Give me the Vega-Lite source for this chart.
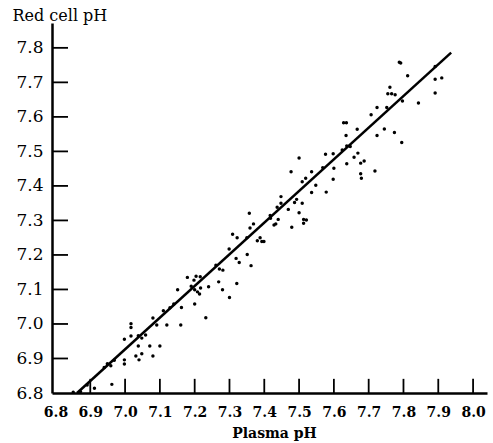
{
  "$schema": "https://vega.github.io/schema/vega-lite/v6.json",
  "autosize": {"type": "none"},
  "padding": {"left": 52, "top": 23, "right": 6, "bottom": 50},
  "width": 435,
  "height": 370,
  "background": "white",
  "config": {
    "view": {"stroke": null},
    "axisX": {"ticks": false, "tickSize": 0, "labelPadding": 12, "domainColor": "black", "domainWidth": 2.5, "grid": false},
    "axisY": {"ticks": false, "tickSize": 0, "labelPadding": 9, "domainColor": "black", "domainWidth": 2.5, "grid": false}
  },
  "datasets": {
    "pts": [
      {"plasma": 6.851, "red": 6.802}, {"plasma": 6.872, "red": 6.804}, {"plasma": 6.891, "red": 6.823},
      {"plasma": 6.912, "red": 6.814}, {"plasma": 6.962, "red": 6.825}, {"plasma": 6.940, "red": 6.874},
      {"plasma": 6.949, "red": 6.885}, {"plasma": 6.959, "red": 6.879}, {"plasma": 6.969, "red": 6.895},
      {"plasma": 6.998, "red": 6.896}, {"plasma": 6.998, "red": 6.884}, {"plasma": 6.998, "red": 6.956},
      {"plasma": 7.017, "red": 7.001}, {"plasma": 7.017, "red": 6.990}, {"plasma": 7.017, "red": 6.965},
      {"plasma": 7.031, "red": 6.907}, {"plasma": 7.040, "red": 6.896}, {"plasma": 7.048, "red": 6.914},
      {"plasma": 7.038, "red": 6.966}, {"plasma": 7.048, "red": 6.959}, {"plasma": 7.059, "red": 6.968},
      {"plasma": 7.038, "red": 6.936}, {"plasma": 7.071, "red": 6.936}, {"plasma": 7.080, "red": 6.907},
      {"plasma": 7.100, "red": 6.936}, {"plasma": 7.080, "red": 7.017}, {"plasma": 7.091, "red": 6.997},
      {"plasma": 7.110, "red": 7.038}, {"plasma": 7.120, "red": 6.997}, {"plasma": 7.129, "red": 7.047},
      {"plasma": 7.140, "red": 7.058}, {"plasma": 7.151, "red": 7.099}, {"plasma": 7.160, "red": 6.997},
      {"plasma": 7.162, "red": 7.048}, {"plasma": 7.179, "red": 7.135}, {"plasma": 7.190, "red": 7.109},
      {"plasma": 7.198, "red": 7.127}, {"plasma": 7.200, "red": 7.099}, {"plasma": 7.208, "red": 7.093},
      {"plasma": 7.214, "red": 7.087}, {"plasma": 7.200, "red": 7.058}, {"plasma": 7.216, "red": 7.137},
      {"plasma": 7.204, "red": 7.138}, {"plasma": 7.217, "red": 7.104}, {"plasma": 7.232, "red": 7.018},
      {"plasma": 7.240, "red": 7.108}, {"plasma": 7.261, "red": 7.170}, {"plasma": 7.271, "red": 7.159},
      {"plasma": 7.281, "red": 7.156}, {"plasma": 7.269, "red": 7.122}, {"plasma": 7.280, "red": 7.099},
      {"plasma": 7.300, "red": 7.077}, {"plasma": 7.299, "red": 7.217}, {"plasma": 7.309, "red": 7.260},
      {"plasma": 7.322, "red": 7.250}, {"plasma": 7.319, "red": 7.190}, {"plasma": 7.328, "red": 7.178},
      {"plasma": 7.321, "red": 7.117}, {"plasma": 7.350, "red": 7.250}, {"plasma": 7.351, "red": 7.201},
      {"plasma": 7.362, "red": 7.169}, {"plasma": 7.357, "red": 7.321}, {"plasma": 7.359, "red": 7.278},
      {"plasma": 7.369, "red": 7.290}, {"plasma": 7.388, "red": 7.250}, {"plasma": 7.380, "red": 7.241},
      {"plasma": 7.393, "red": 7.239}, {"plasma": 7.399, "red": 7.239}, {"plasma": 7.417, "red": 7.314},
      {"plasma": 7.428, "red": 7.287}, {"plasma": 7.418, "red": 7.306}, {"plasma": 7.440, "red": 7.303},
      {"plasma": 7.433, "red": 7.290}, {"plasma": 7.437, "red": 7.338}, {"plasma": 7.448, "red": 7.350},
      {"plasma": 7.448, "red": 7.369}, {"plasma": 7.469, "red": 7.332}, {"plasma": 7.479, "red": 7.280},
      {"plasma": 7.487, "red": 7.352}, {"plasma": 7.493, "red": 7.361}, {"plasma": 7.500, "red": 7.322},
      {"plasma": 7.509, "red": 7.350}, {"plasma": 7.513, "red": 7.303}, {"plasma": 7.521, "red": 7.301},
      {"plasma": 7.513, "red": 7.292}, {"plasma": 7.477, "red": 7.441}, {"plasma": 7.500, "red": 7.481},
      {"plasma": 7.509, "red": 7.412}, {"plasma": 7.519, "red": 7.422}, {"plasma": 7.536, "red": 7.441},
      {"plasma": 7.536, "red": 7.381}, {"plasma": 7.548, "red": 7.402}, {"plasma": 7.568, "red": 7.453},
      {"plasma": 7.578, "red": 7.382}, {"plasma": 7.576, "red": 7.492}, {"plasma": 7.598, "red": 7.493},
      {"plasma": 7.600, "red": 7.451}, {"plasma": 7.598, "red": 7.419}, {"plasma": 7.624, "red": 7.504},
      {"plasma": 7.637, "red": 7.516}, {"plasma": 7.647, "red": 7.514}, {"plasma": 7.637, "red": 7.464},
      {"plasma": 7.658, "red": 7.483}, {"plasma": 7.669, "red": 7.495}, {"plasma": 7.677, "red": 7.466},
      {"plasma": 7.687, "red": 7.472}, {"plasma": 7.677, "red": 7.435}, {"plasma": 7.679, "red": 7.422},
      {"plasma": 7.635, "red": 7.546}, {"plasma": 7.628, "red": 7.583}, {"plasma": 7.636, "red": 7.583},
      {"plasma": 7.667, "red": 7.564}, {"plasma": 7.707, "red": 7.606}, {"plasma": 7.718, "red": 7.443},
      {"plasma": 7.724, "red": 7.546}, {"plasma": 7.745, "red": 7.565}, {"plasma": 7.724, "red": 7.627},
      {"plasma": 7.752, "red": 7.627}, {"plasma": 7.774, "red": 7.555}, {"plasma": 7.795, "red": 7.526},
      {"plasma": 7.755, "red": 7.667}, {"plasma": 7.766, "red": 7.667}, {"plasma": 7.776, "red": 7.664},
      {"plasma": 7.761, "red": 7.686}, {"plasma": 7.797, "red": 7.646}, {"plasma": 7.843, "red": 7.640},
      {"plasma": 7.812, "red": 7.719}, {"plasma": 7.788, "red": 7.758}, {"plasma": 7.792, "red": 7.756},
      {"plasma": 7.891, "red": 7.746}, {"plasma": 7.891, "red": 7.709}, {"plasma": 7.910, "red": 7.713},
      {"plasma": 7.891, "red": 7.669}
    ],
    "fit": [
      {"plasma": 6.862, "red": 6.80},
      {"plasma": 7.937, "red": 7.786}
    ],
    "xticks": [
      {"v": 6.9}, {"v": 7.0}, {"v": 7.1}, {"v": 7.2}, {"v": 7.3}, {"v": 7.4},
      {"v": 7.5}, {"v": 7.6}, {"v": 7.7}, {"v": 7.8}, {"v": 7.9}, {"v": 8.0}
    ],
    "yticks": [
      {"v": 6.9}, {"v": 7.0}, {"v": 7.1}, {"v": 7.2}, {"v": 7.3}, {"v": 7.4},
      {"v": 7.5}, {"v": 7.6}, {"v": 7.7}, {"v": 7.8}
    ]
  },
  "layer": [
    {
      "data": {"name": "pts"},
      "mark": {"type": "circle", "size": 12, "color": "black", "opacity": 1},
      "encoding": {
        "x": {
          "field": "plasma", "type": "quantitative",
          "scale": {"domain": [6.79, 8.04], "nice": false, "zero": false},
          "axis": {
            "title": "Plasma pH",
            "values": [6.8, 6.9, 7.0, 7.1, 7.2, 7.3, 7.4, 7.5, 7.6, 7.7, 7.8, 7.9, 8.0],
            "tickCount": 30,
            "format": ".1f",
            "labelFont": "DejaVu Serif", "labelFontSize": 14, "labelFontWeight": "bold", "labelColor": "black",
            "labelOverlap": false, "labelFlush": false,
            "titleFont": "DejaVu Serif", "titleFontSize": 14, "titleFontWeight": "bold", "titleColor": "black",
            "titleX": 222, "titleY": 44, "titleBaseline": "alphabetic", "titleAlign": "center"
          }
        },
        "y": {
          "field": "red", "type": "quantitative",
          "scale": {"domain": [6.8, 7.872], "nice": false, "zero": false},
          "axis": {
            "title": "Red cell pH",
            "values": [6.8, 6.9, 7.0, 7.1, 7.2, 7.3, 7.4, 7.5, 7.6, 7.7, 7.8],
            "tickCount": 30,
            "format": ".1f",
            "labelFont": "DejaVu Serif", "labelFontSize": 17, "labelColor": "black",
            "labelOverlap": false, "labelFlush": false,
            "titleFont": "DejaVu Serif", "titleFontSize": 16, "titleFontWeight": "normal", "titleColor": "black",
            "titleAngle": 0, "titleX": -40, "titleY": -3, "titleAlign": "left", "titleBaseline": "alphabetic"
          }
        }
      }
    },
    {
      "data": {"name": "fit"},
      "mark": {"type": "line", "color": "black", "strokeWidth": 2.5},
      "encoding": {
        "x": {"field": "plasma", "type": "quantitative"},
        "y": {"field": "red", "type": "quantitative"}
      }
    },
    {
      "data": {"name": "xticks"},
      "mark": {"type": "rule", "color": "black", "strokeWidth": 1.8},
      "encoding": {
        "x": {"field": "v", "type": "quantitative"},
        "y": {"datum": 6.8, "type": "quantitative"},
        "y2": {"datum": 6.841}
      }
    },
    {
      "data": {"name": "yticks"},
      "mark": {"type": "rule", "color": "black", "strokeWidth": 1.8},
      "encoding": {
        "y": {"field": "v", "type": "quantitative"},
        "x": {"datum": 6.79, "type": "quantitative"},
        "x2": {"datum": 6.836}
      }
    }
  ]
}
